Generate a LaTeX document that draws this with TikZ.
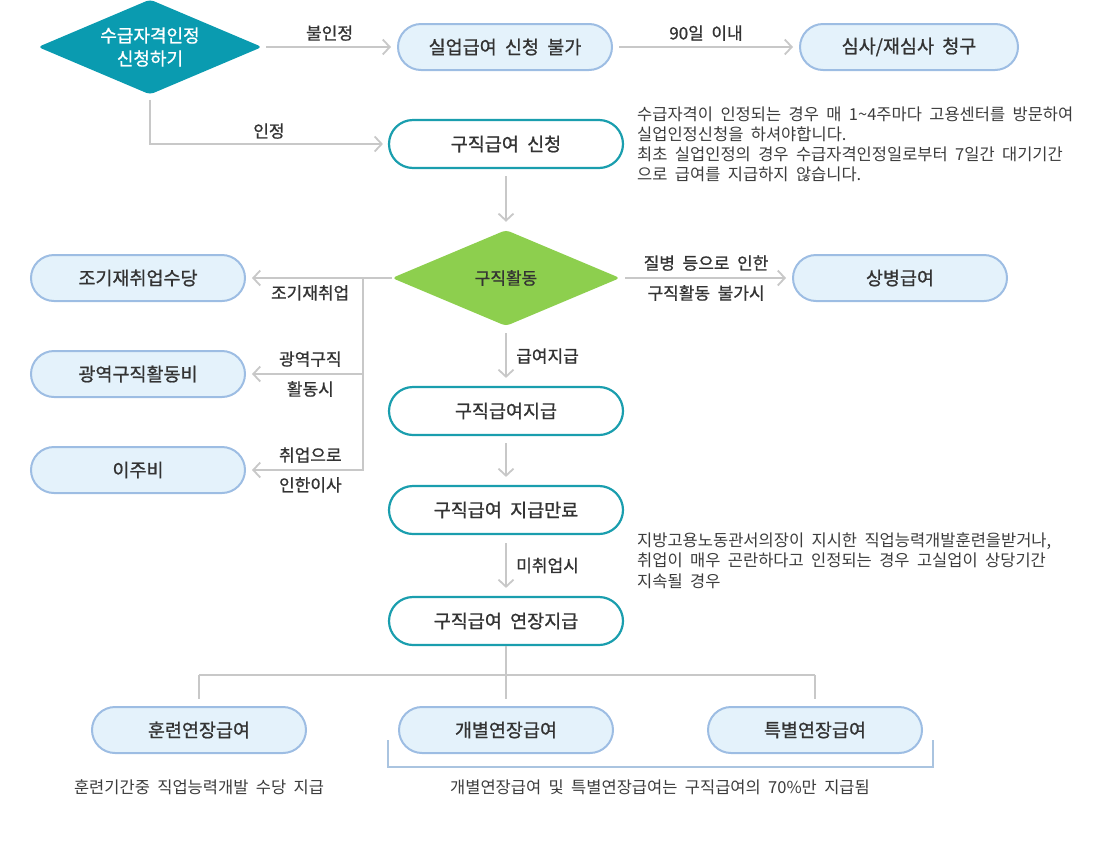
\documentclass[tikz,border=0pt]{standalone}
\usepackage{fontspec}
\setmainfont[WordSpace=2]{Noto Sans CJK KR}
\newfontfamily\medfont[WordSpace=2, FakeBold=0.9]{Noto Sans CJK KR}
\usepackage{tikz}
\usetikzlibrary{shapes.geometric, arrows.meta}
\definecolor{tealfill}{HTML}{0A9BB0}
\definecolor{tealline}{HTML}{1A9EAE}
\definecolor{greenfill}{HTML}{8DCF4E}
\definecolor{boxfill}{HTML}{E4F2FB}
\definecolor{boxline}{HTML}{9DBDE3}
\definecolor{linegray}{HTML}{C8C8C8}
\definecolor{textdark}{HTML}{333333}
\definecolor{notegray}{HTML}{3C3C3C}
\definecolor{bracketblue}{HTML}{AAC4E0}
\newcommand\boxsize{\medfont\fontsize{18.5}{22}\selectfont}
\newcommand\lblsize{\medfont\fontsize{17}{20}\selectfont}
\newcommand\notesize{\fontsize{16.5}{20}\selectfont}

\begin{document}
\begin{tikzpicture}[x=1pt, y=-1pt,
  flowline/.style={draw=linegray, line width=1.8pt},
  arr/.style={flowline, -{Straight Barb[length=7pt,width=15pt]}},
  infobox/.style={draw=boxline, fill=boxfill, line width=2pt, rounded corners=23pt,
    minimum width=214pt, minimum height=46pt, font=\boxsize, text=textdark},
  stepbox/.style={draw=tealline, fill=white, line width=2.2pt, rounded corners=24pt,
    minimum width=234pt, minimum height=48pt, font=\boxsize, text=textdark},
  decision/.style={diamond, aspect=2.36, inner sep=0pt, rounded corners=4pt, align=center,
    minimum width=224pt, minimum height=95pt},
  lbl/.style={font=\lblsize, text=textdark},
  remark/.style={font=\notesize, text=notegray, align=left, inner sep=0pt}]
\useasboundingbox (0,0) rectangle (1100,844);
\node[decision, fill=tealfill, text=white, font=\medfont\fontsize{18}{23}\selectfont] (apply) at (150,47) {수급자격인정\\신청하기};
\node[infobox] (deny) at (505,47) {실업급여 신청 불가};
\node[infobox, minimum width=218pt] (appeal) at (909,47) {심사/재심사 청구};
\node[stepbox] (claim) at (506,144) {구직급여 신청};
\node[decision, fill=greenfill, text=textdark, font=\medfont\fontsize{17}{20}\selectfont,
  minimum width=228pt, minimum height=96pt] (search) at (506,278) {구직활동};
\node[infobox] (sick) at (900,278) {상병급여};
\node[infobox] (early) at (138,278) {조기재취업수당};
\node[infobox] (wide) at (138,374) {광역구직활동비};
\node[infobox] (move) at (138,470) {이주비};
\node[stepbox] (pay) at (506,411) {구직급여지급};
\node[stepbox] (expire) at (506,510) {구직급여 지급만료};
\node[stepbox] (extend) at (506,621) {구직급여 연장지급};
\node[infobox] (train) at (199,730) {훈련연장급여};
\node[infobox] (indiv) at (506,730) {개별연장급여};
\node[infobox] (special) at (815,730) {특별연장급여};
\node[remark, anchor=north west] (claimnote) at (637,107) {수급자격이 인정되는 경우 매 1\textasciitilde4주마다 고용센터를 방문하여\\실업인정신청을 하셔야합니다.\\최초 실업인정의 경우 수급자격인정일로부터 7일간 대기기간\\으로 급여를 지급하지 않습니다.};
\node[remark, anchor=north west] (extendnote) at (637,532) {지방고용노동관서의장이 지시한 직업능력개발훈련을받거나,\\[0.5pt]취업이 매우 곤란하다고 인정되는 경우 고실업이 상당기간\\[0.5pt]지속될 경우};
\node[remark] (trainnote) at (199,787) {훈련기간중 직업능력개발 수당 지급};
\node[remark] (ratenote) at (660,787) {개별연장급여 및 특별연장급여는 구직급여의 70\%만 지급됨};
\coordinate (fork) at (363,278);
\coordinate (forkmid) at (363,374);
\coordinate (split) at (506,675);
\draw[arr, shorten <=4pt, shorten >=6pt] (apply) -- node[lbl, above=2pt] {불인정} (deny);
\draw[arr, shorten <=6pt, shorten >=6pt] (deny) -- node[lbl, above=2pt] {90일 이내} (appeal);
\draw[arr, shorten <=5pt, shorten >=5pt] (apply.south) |- node[lbl, above=1pt, pos=0.75] {인정} (claim.west);
\draw[arr, shorten <=7pt, shorten >=8pt] (claim) -- (search);
\draw[arr, shorten <=5pt, shorten >=6pt] (search) -- node[lbl, above=3pt] {질병 등으로 인한}
  node[lbl, below=3pt] {구직활동 불가시} (sick);
\draw[arr, shorten >=6pt] (search) -- node[lbl, below=3pt, pos=0.56] {조기재취업} (early);
\draw[arr, shorten >=6pt] (forkmid) -- node[lbl, above=3pt, pos=0.45] {광역구직}
  node[lbl, below=3pt, pos=0.45] {활동시} (wide);
\draw[arr, shorten >=6pt] (fork) |- node[lbl, above=3pt, pos=0.725] {취업으로}
  node[lbl, below=3pt, pos=0.725] {인한이사} (move);
\draw[arr, shorten <=7pt, shorten >=8pt] (search) -- node[lbl, right=6pt] {급여지급} (pay);
\draw[arr, shorten <=7pt, shorten >=8pt] (pay) -- (expire);
\draw[arr, shorten <=8pt, shorten >=8pt] (expire) -- node[lbl, right=6pt] {미취업시} (extend);
\draw[flowline] (extend) -- (split);
\draw[flowline] (train.north |- split) -- (special.north |- split);
\draw[flowline, shorten >=7pt] (train.north |- split) -- (train.north);
\draw[flowline, shorten >=7pt] (split) -- (indiv.north);
\draw[flowline, shorten >=7pt] (special.north |- split) -- (special.north);
\draw[bracketblue, line width=1.2pt] (388,740) -- (388,767) -- (933,767) -- (933,740);
\end{tikzpicture}
\end{document}
